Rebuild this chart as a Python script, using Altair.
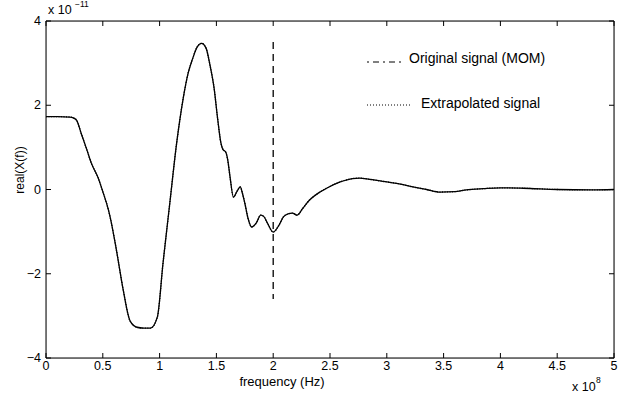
import altair as alt
import pandas as pd

# frequency in units of 1e8 Hz, real(X(f)) in units of 1e-11
freq = [0, 0.1, 0.21, 0.24, 0.27, 0.31, 0.36, 0.40, 0.46, 0.50, 0.55, 0.57, 0.62, 0.68,
        0.74, 0.80, 0.86, 0.92, 0.98, 1.03, 1.09, 1.15, 1.21, 1.25, 1.29, 1.33, 1.37,
        1.41, 1.44, 1.48, 1.51, 1.54, 1.56, 1.58, 1.60, 1.62, 1.65, 1.68, 1.71, 1.73,
        1.75, 1.78, 1.81, 1.85, 1.89, 1.92, 1.95, 2.00, 2.05, 2.09, 2.13, 2.17, 2.21,
        2.26, 2.32, 2.40, 2.47, 2.59, 2.70, 2.76, 2.85, 3.00, 3.12, 3.23, 3.35, 3.47,
        3.60, 3.70, 3.85, 4.00, 4.20, 4.50, 4.80, 5.00]
real_x = [1.73, 1.73, 1.72, 1.70, 1.64, 1.33, 0.94, 0.62, 0.27, -0.05, -0.49, -0.72,
          -1.44, -2.39, -3.12, -3.27, -3.29, -3.29, -3.03, -1.75, -0.32, 1.10, 2.20,
          2.75, 3.10, 3.38, 3.47, 3.35, 3.00, 2.40, 1.70, 1.10, 0.94, 0.90, 0.70, 0.30,
          -0.18, -0.05, 0.06, -0.10, -0.32, -0.70, -0.89, -0.80, -0.61, -0.65, -0.80,
          -1.01, -0.85, -0.65, -0.58, -0.56, -0.61, -0.45, -0.25, -0.08, 0.03, 0.18,
          0.26, 0.27, 0.24, 0.18, 0.13, 0.06, 0.0, -0.06, -0.05, -0.01, 0.02, 0.04,
          0.03, 0.0, -0.01, 0.0]

marker_x = [2.0]
marker_top = [3.5]
marker_bottom = [-2.6]

x_ticks = [0, 0.5, 1, 1.5, 2, 2.5, 3, 3.5, 4, 4.5, 5]
x_tick_labels = ["0", "0.5", "1", "1.5", "2", "2.5", "3", "3.5", "4", "4.5", "5"]
y_ticks = [-4, -2, 0, 2, 4]
y_tick_labels = ["\u22124", "\u22122", "0", "2", "4"]

legend_labels = ["Original signal (MOM)", "Extrapolated signal"]

W, H = 568, 337
FONT = "Liberation Sans"

curve = pd.DataFrame({"f": freq, "v": real_x})
xs = alt.Scale(domain=[0, 5], nice=False, zero=False)
ys = alt.Scale(domain=[-4, 4], nice=False, zero=False)

base_x = alt.X("f:Q", scale=xs, axis=None)
base_y = alt.Y("v:Q", scale=ys, axis=None)

line_orig = alt.Chart(curve).mark_line(color="black", strokeWidth=1.3, interpolate="monotone").encode(x=base_x, y=base_y)
line_ext = alt.Chart(curve).mark_line(color="black", strokeWidth=1.3, strokeDash=[1, 1.5], interpolate="monotone").encode(x=base_x, y=base_y)

marker = alt.Chart(pd.DataFrame({"f": marker_x, "v": marker_top, "v2": marker_bottom})).mark_rule(
    color="black", strokeWidth=1.3, strokeDash=[7, 5]
).encode(x=base_x, y=base_y, y2="v2:Q")

# frame
frame = alt.Chart(pd.DataFrame({"a": [0]})).mark_rect(
    fill=None, stroke="black", strokeWidth=1
).encode(x=alt.value(0), x2=alt.value(W), y=alt.value(0), y2=alt.value(H))

xt = pd.DataFrame({"f": x_ticks, "lab": x_tick_labels})
yt = pd.DataFrame({"v": y_ticks, "lab": y_tick_labels})

xtick_bottom = alt.Chart(xt).mark_rule(color="black").encode(
    x=base_x, y=alt.value(H), y2=alt.value(H - 5))
xtick_top = alt.Chart(xt).mark_rule(color="black").encode(
    x=base_x, y=alt.value(0), y2=alt.value(5))
ytick_left = alt.Chart(yt).mark_rule(color="black").encode(
    y=base_y, x=alt.value(0), x2=alt.value(5))
ytick_right = alt.Chart(yt).mark_rule(color="black").encode(
    y=base_y, x=alt.value(W), x2=alt.value(W - 5))

xlab = alt.Chart(xt).mark_text(font=FONT, fontSize=12.5, baseline="top", color="black").encode(
    x=base_x, y=alt.value(H + 2), text="lab:N")
ylab = alt.Chart(yt).mark_text(font=FONT, fontSize=12.5, align="right", baseline="middle", color="black").encode(
    y=base_y, x=alt.value(-5), text="lab:N")

def txt(s, x, y, size=12.5, align="center", angle=0, baseline="middle"):
    kw = dict(font=FONT, fontSize=size, align=align, baseline=baseline, color="black", text=s)
    if angle:
        kw["angle"] = angle
    return alt.Chart(pd.DataFrame({"a": [0]})).mark_text(**kw).encode(
        x=alt.value(x), y=alt.value(y))

xtitle = txt("frequency (Hz)", 236, H + 24, size=13)
ytitle = txt("real(X(f))", -26, 149, size=12, angle=270)
xexp = txt("x 10", 526, H + 29, size=12.5, align="left")
xexp_sup = txt("8", 550, H + 22, size=8.5, align="left")
yexp = txt("x 10", 2, -11, size=12.5, align="left")
yexp_sup = txt("\u221211", 29, -17, size=8.5, align="left")

leg1 = txt(legend_labels[0], 363, 38, size=14, align="left")
leg2 = txt(legend_labels[1], 375, 83, size=14, align="left")
leg1_line = alt.Chart(pd.DataFrame({"a": [0]})).mark_rule(
    color="black", strokeWidth=1, strokeDash=[2, 4, 6, 4]).encode(
    x=alt.value(321), x2=alt.value(357), y=alt.value(41))
leg2_line = alt.Chart(pd.DataFrame({"a": [0]})).mark_rule(
    color="black", strokeWidth=1, strokeDash=[1, 2]).encode(
    x=alt.value(321), x2=alt.value(366), y=alt.value(84))

chart = alt.layer(
    frame, xtick_bottom, xtick_top, ytick_left, ytick_right,
    marker, line_orig, line_ext,
    xlab, ylab, xtitle, ytitle, xexp, xexp_sup, yexp, yexp_sup,
    leg1, leg2, leg1_line, leg2_line,
).properties(
    width=W, height=H,
    autosize=alt.AutoSizeParams(type="none"),
    padding={"left": 46, "top": 21, "right": 6, "bottom": 40},
).configure_view(stroke=None).configure(background="white")

chart.save("out.html", embed_options={"renderer": "svg", "actions": False})
